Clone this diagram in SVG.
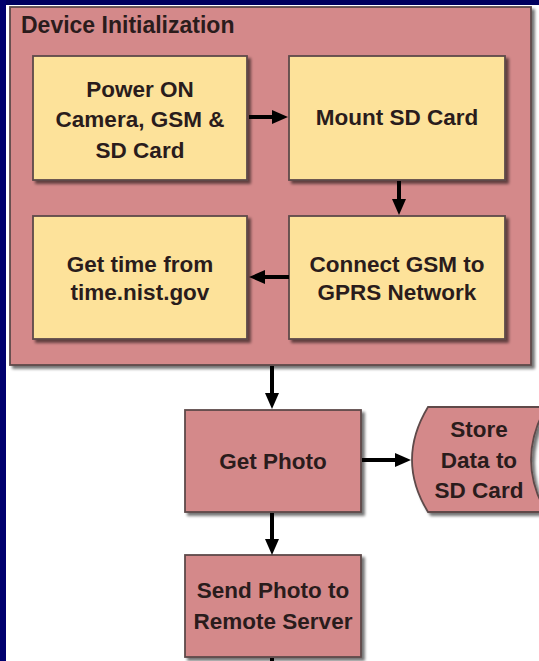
<svg xmlns="http://www.w3.org/2000/svg" width="539" height="661" viewBox="0 0 539 661">
  <defs>
    <filter id="shadow" x="-10%" y="-10%" width="125%" height="125%">
      <feGaussianBlur in="SourceAlpha" stdDeviation="1.6"/>
      <feOffset dx="2.5" dy="3" result="b"/>
      <feComponentTransfer><feFuncA type="linear" slope="0.55"/></feComponentTransfer>
      <feMerge><feMergeNode/><feMergeNode in="SourceGraphic"/></feMerge>
    </filter>
    <!-- arrowhead 16 long x 14 wide; the line stops 10px before the tip -->
    <marker id="arrow" viewBox="0 0 16 14" refX="6" refY="7" markerWidth="16" markerHeight="14" orient="auto" markerUnits="userSpaceOnUse">
      <path d="M0,0 L16,7 L0,14 Z" fill="#000"/>
    </marker>
  </defs>
  <style>
    .pink { fill: #d4898a; stroke: #5e4a4a; stroke-width: 1.8; }
    .yellow { fill: #fde29a; stroke: #5e4a4a; stroke-width: 1.8; }
    .lbl { font-family: "Liberation Sans", Arial, sans-serif; font-weight: bold; font-size: 22.5px; fill: #2a1c1c; text-anchor: middle; }
    .title { font-family: "Liberation Sans", Arial, sans-serif; font-weight: bold; font-size: 23px; fill: #2a1c1c; }
    .conn { stroke: #000; stroke-width: 4; fill: none; }
  </style>

  <!-- page background with navy frame -->
  <rect x="0" y="0" width="539" height="661" fill="#ffffff"/>
  <rect x="0" y="0" width="539" height="5" fill="#00005e"/>
  <rect x="0" y="0" width="6" height="661" fill="#00006e"/>

  <!-- container: device initialization -->
  <g id="device-init">
    <rect class="pink" x="10" y="7" width="521" height="358" filter="url(#shadow)"/>
    <text class="title" x="21" y="33">Device Initialization</text>
  </g>

  <g id="power-on">
    <rect class="yellow" x="33" y="56" width="214" height="124" filter="url(#shadow)"/>
    <text class="lbl" x="140" y="97">Power ON</text>
    <text class="lbl" x="140" y="127">Camera, GSM &amp;</text>
    <text class="lbl" x="140" y="158">SD Card</text>
  </g>

  <g id="mount-sd">
    <rect class="yellow" x="289" y="56" width="216" height="124" filter="url(#shadow)"/>
    <text class="lbl" x="397" y="125">Mount SD Card</text>
  </g>

  <g id="get-time">
    <rect class="yellow" x="33" y="216" width="214" height="123" filter="url(#shadow)"/>
    <text class="lbl" x="140" y="272">Get time from</text>
    <text class="lbl" x="140" y="300">time.nist.gov</text>
  </g>

  <g id="connect-gsm">
    <rect class="yellow" x="289" y="216" width="216" height="123" filter="url(#shadow)"/>
    <text class="lbl" x="397" y="272">Connect GSM to</text>
    <text class="lbl" x="397" y="300">GPRS Network</text>
  </g>

  <g id="get-photo">
    <rect class="pink" x="185" y="410" width="176" height="102" filter="url(#shadow)"/>
    <text class="lbl" x="273" y="469">Get Photo</text>
  </g>

  <g id="store-data">
    <path class="pink" d="M428,407 L546,407 Q516,460 546,512 L428,512 Q396,460 428,407 Z" filter="url(#shadow)"/>
    <text class="lbl" x="479" y="437">Store</text>
    <text class="lbl" x="479" y="468">Data to</text>
    <text class="lbl" x="479" y="498">SD Card</text>
  </g>

  <g id="send-photo">
    <rect class="pink" x="185" y="555" width="176" height="102" filter="url(#shadow)"/>
    <text class="lbl" x="273" y="598">Send Photo to</text>
    <text class="lbl" x="273" y="629">Remote Server</text>
  </g>

  <!-- connectors -->
  <g id="connectors">
    <line class="conn" x1="249" y1="117" x2="278" y2="117" marker-end="url(#arrow)"/>
    <line class="conn" x1="399" y1="181" x2="399" y2="205" marker-end="url(#arrow)"/>
    <line class="conn" x1="289" y1="277" x2="259" y2="277" marker-end="url(#arrow)"/>
    <line class="conn" x1="272" y1="366" x2="272" y2="399" marker-end="url(#arrow)"/>
    <line class="conn" x1="362" y1="460" x2="401" y2="460" marker-end="url(#arrow)"/>
    <line class="conn" x1="272" y1="513" x2="272" y2="545" marker-end="url(#arrow)"/>
    <line class="conn" x1="272" y1="658" x2="272" y2="661"/>
  </g>
</svg>
